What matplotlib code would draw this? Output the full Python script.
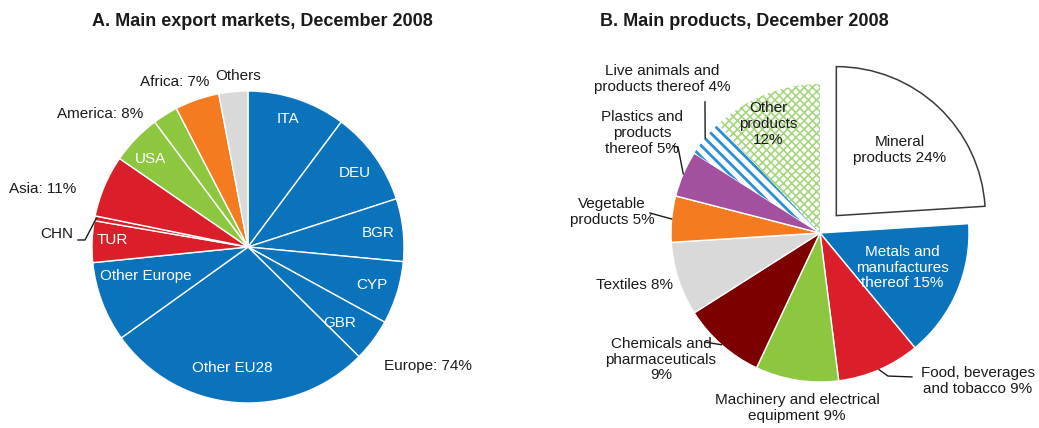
import numpy as np
import matplotlib
matplotlib.use("Agg")
from matplotlib import pyplot

pyplot.rcParams['font.family'] = ['Liberation Sans Narrow', 'Liberation Sans', 'DejaVu Sans']
pyplot.rcParams['hatch.linewidth'] = 1.0

# ---- data ----
markets = ["ITA", "DEU", "BGR", "CYP", "GBR", "Other EU28", "Other Europe",
           "TUR", "CHN", "Other Asia", "USA", "Other America", "Africa", "Others"]
market_shares = [10.2, 9.8, 6.5, 6.5, 4.4, 27.7, 8.3, 4.3, 0.5, 6.4, 5.2, 2.6, 4.6, 3.0]
market_inside_labels = ["ITA", "DEU", "BGR", "CYP", "GBR", "Other EU28", "Other Europe",
                        "TUR", "", "", "USA", "", "", ""]

products = ["Mineral products", "Metals and manufactures thereof", "Food, beverages and tobacco",
            "Machinery and electrical equipment", "Chemicals and pharmaceuticals", "Textiles",
            "Vegetable products", "Plastics and products thereof",
            "Live animals and products thereof", "Other products"]
product_shares = [24, 15, 9, 9, 9, 8, 5, 5, 4, 12]
product_labels = ["Mineral\nproducts 24%", "Metals and\nmanufactures\nthereof 15%",
                  "Food, beverages\nand tobacco 9%", "Machinery and electrical\nequipment 9%",
                  "Chemicals and\npharmaceuticals\n9%", "Textiles 8%", "Vegetable\nproducts 5%",
                  "Plastics and\nproducts\nthereof 5%", "Live animals and\nproducts thereof 4%",
                  "Other\nproducts\n12%"]

blue, red, green, orange, grey = "#0B73BC", "#DA1F2A", "#8DC63F", "#F47B20", "#D9D9D9"
darkred, purple = "#7D0000", "#A3509F"
textcol = "#1a1a1a"
fs = 11

W, H = 1039, 428
fig = pyplot.figure(figsize=(W / 100, H / 100), dpi=100)


def pie_axes(box):
    x0, y0, x1, y1 = box
    ax = fig.add_axes([x0 / W, 1 - y1 / H, (x1 - x0) / W, (y1 - y0) / H])
    return ax


def fit_axes(ax, cx, cy, r, box):
    # data units are pie radii, pie centre placed at pixel (cx, cy)
    x0, y0, x1, y1 = box
    ax.set_aspect("auto")
    ax.set_xlim((x0 - cx) / r, (x1 - cx) / r)
    ax.set_ylim((cy - y1) / r, (cy - y0) / r)
    ax.axis("off")


def wedge_point(w, rad=1.0, dang=0.0):
    a = np.deg2rad((w.theta1 + w.theta2) / 2 + dang)
    cx, cy = w.center
    return cx + rad * w.r * np.cos(a), cy + rad * w.r * np.sin(a)


# ---------------- A. export markets ----------------
boxA = (0, 40, 520, 428)
axA = pie_axes(boxA)
market_colors = [blue] * 7 + [red] * 3 + [green] * 2 + [orange, grey]
wedgesA, _ = axA.pie(market_shares, colors=market_colors, startangle=90, counterclock=False,
                     wedgeprops=dict(edgecolor="white", linewidth=1.0))
fit_axes(axA, 248, 247, 156, boxA)

# inside label placement: (radius factor, angle offset in degrees)
inside_pos = [(0.86, 1), (0.83, -1), (0.84, 0), (0.83, 0), (0.76, -3), (0.78, -3),
              (0.68, -5), (0.87, -1), None, None, (0.84, 2), None, None, None]
for w, lab, pos in zip(wedgesA, market_inside_labels, inside_pos):
    if lab:
        x, y = wedge_point(w, *pos)
        axA.text(x, y, lab, color="white", ha="center", va="center", fontsize=fs)

group_labels = [("Europe: 74%", 1.154, -0.763), ("Asia: 11%", -1.314, 0.372),
                ("America: 8%", -0.949, 0.853), ("Africa: 7%", -0.468, 1.058),
                ("Others", -0.064, 1.096), ("CHN", -1.224, 0.083)]
for lab, x, y in group_labels:
    axA.text(x, y, lab, color=textcol, ha="center", va="center", fontsize=fs)

ex, ey = wedge_point(wedgesA[markets.index("CHN")], 0.99)
axA.plot([-1.09, -1.045, ex], [0.045, 0.045, ey], color=textcol, lw=1.0)

fig.text(262 / W, 1 - 22 / H, "A. Main export markets, December 2008", ha="center", va="center",
         fontsize=13, fontweight="bold", color=textcol)

# ---------------- B. products ----------------
boxB = (540, 40, 1039, 428)
axB = pie_axes(boxB)
product_colors = ["white", blue, red, green, darkred, grey, orange, purple, "white", "white"]
explode = [0.16] + [0] * 9
wedgesB, _ = axB.pie(product_shares, colors=product_colors, startangle=90, counterclock=False,
                     explode=explode, wedgeprops=dict(edgecolor="white", linewidth=1.0))
fit_axes(axB, 820, 233, 149, boxB)

wedgesB[0].set_edgecolor("#3a3a3a")
wedgesB[0].set_linewidth(1.1)
wedgesB[8].set_hatch("\\" * 3)
wedgesB[8].set_edgecolor("#2A8ED4")
wedgesB[8].set_linewidth(0)
if hasattr(wedgesB[8], "set_hatch_linewidth"):
    wedgesB[8].set_hatch_linewidth(2.0)
wedgesB[9].set_hatch("xxxx")
wedgesB[9].set_edgecolor("#A6D67E")
wedgesB[9].set_linewidth(0)
if hasattr(wedgesB[9], "set_hatch_linewidth"):
    wedgesB[9].set_hatch_linewidth(1.2)

label_pos = [(0.537, 0.557), (0.550, -0.232), (1.060, -0.993), (-0.154, -1.174),
             (-1.067, -0.849), (-1.242, -0.349), (-1.396, 0.141), (-1.195, 0.671),
             (-1.060, 1.034), (-0.349, 0.732)]
for i, (lab, (x, y)) in enumerate(zip(product_labels, label_pos)):
    col = "white" if i == 1 else textcol
    axB.text(x, y, lab, color=col, ha="center", va="center", fontsize=fs, linespacing=1.15)

# leader lines: text-side points, then the wedge edge
leaders = {2: [(0.617, -0.966), (0.456, -0.960)],
           4: [(-0.772, -0.732)],
           6: [(-1.141, 0.134)],
           7: [(-0.987, 0.584), (-0.953, 0.577)],
           8: [(-0.772, 0.88)]}
for i, pts in leaders.items():
    ex, ey = wedge_point(wedgesB[i], 1.0)
    xs = [p[0] for p in pts] + [ex]
    ys = [p[1] for p in pts] + [ey]
    axB.plot(xs, ys, color=textcol, lw=1.0)

fig.text(744 / W, 1 - 22 / H, "B. Main products, December 2008", ha="center", va="center",
         fontsize=13, fontweight="bold", color=textcol)

pyplot.savefig("out.png", dpi=100)
